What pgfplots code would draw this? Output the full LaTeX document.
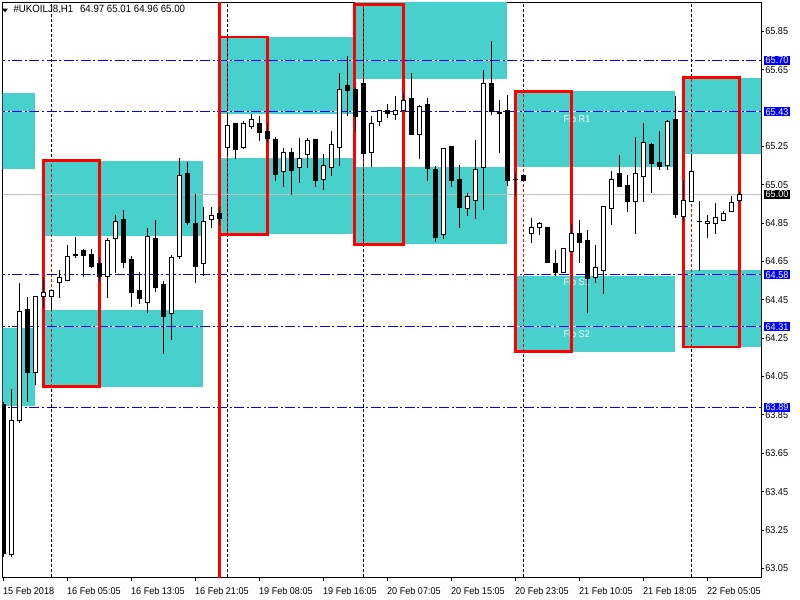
\documentclass[border=0pt]{standalone}
\usepackage{pgfplots}
\pgfplotsset{compat=1.18}
\usepackage{pgfplotstable}
\usepackage{fontspec}
\setmainfont{Liberation Sans}[FakeStretch=0.92]
\definecolor{zone}{RGB}{72,209,204}
\definecolor{bidgray}{RGB}{192,192,192}
\definecolor{pblue}{RGB}{0,0,255}
\newcommand\fs{\fontsize{7.4}{8.9}\selectfont}

% bar index, open, high, low, close (H1 bars)
\pgfplotstableread{
i O H L C
0 63.907 63.915 63.108 63.129
1 63.124 63.986 63.110 63.819
2 63.819 64.539 63.810 64.388
3 64.398 64.466 63.918 64.069
4 64.069 64.470 64.007 64.466
5 64.466 64.570 64.409 64.487
6 64.466 64.500 64.398 64.497
7 64.539 64.607 64.461 64.565
8 64.550 64.738 64.550 64.675
9 64.685 64.780 64.670 64.680
10 64.706 64.717 64.570 64.680
11 64.686 64.717 64.618 64.623
12 64.639 64.675 64.545 64.570
13 64.570 64.770 64.461 64.759
14 64.769 64.890 64.590 64.858
15 64.868 64.920 64.618 64.644
16 64.659 64.680 64.414 64.487
17 64.497 64.597 64.430 64.456
18 64.435 64.826 64.383 64.780
19 64.769 64.868 64.492 64.513
20 64.529 64.550 64.168 64.362
21 64.377 64.686 64.242 64.670
22 64.675 65.187 64.665 65.098
23 65.108 65.166 64.840 64.853
24 64.847 65.004 64.539 64.623
25 64.639 64.936 64.572 64.858
26 64.868 64.936 64.826 64.889
27 64.900 64.936 64.842 64.874
28 65.244 65.411 65.208 65.359
29 65.370 65.372 65.182 65.234
30 65.244 65.380 65.234 65.370
31 65.354 65.417 65.343 65.390
32 65.370 65.406 65.280 65.323
33 65.328 65.370 65.270 65.291
34 65.286 65.297 65.072 65.103
35 65.119 65.239 65.040 65.218
36 65.218 65.239 64.994 65.124
37 65.140 65.296 65.061 65.187
38 65.208 65.296 65.135 65.281
39 65.286 65.288 65.040 65.072
40 65.077 65.208 65.025 65.150
41 65.140 65.328 65.093 65.260
42 65.244 65.631 65.150 65.547
43 65.568 65.720 65.406 65.542
44 65.547 65.558 65.323 65.406
45 65.578 65.600 65.187 65.213
46 65.218 65.406 65.140 65.370
47 65.380 65.437 65.354 65.437
48 65.437 65.469 65.400 65.422
49 65.417 65.510 65.390 65.437
50 65.437 65.526 65.432 65.490
51 65.500 65.631 65.312 65.314
52 65.312 65.464 65.182 65.458
53 65.469 65.500 65.072 65.135
54 65.129 65.150 64.753 64.774
55 64.790 65.241 64.769 65.239
56 65.249 65.251 65.040 65.072
57 65.077 65.155 64.826 64.931
58 64.926 65.009 64.885 64.988
59 64.967 65.281 64.874 65.129
60 65.140 65.646 64.917 65.578
61 65.578 65.798 65.411 65.432
62 65.425 65.490 65.213 65.420
63 65.437 65.520 65.042 65.072
64 65.077 65.110 64.990 65.075
65 65.098 65.100 65.070 65.072
66 64.795 64.879 64.748 64.826
67 64.826 64.858 64.790 64.847
68 64.826 64.830 64.644 64.644
69 64.638 64.708 64.572 64.594
70 64.592 64.720 64.590 64.717
71 64.703 64.847 64.700 64.795
72 64.795 64.868 64.644 64.748
73 64.759 64.815 64.380 64.563
74 64.565 64.738 64.539 64.618
75 64.602 64.940 64.482 64.935
76 64.926 65.124 64.842 65.077
77 65.108 65.204 65.040 65.042
78 65.046 65.103 64.906 64.963
79 64.963 65.297 64.794 65.108
80 65.094 65.370 64.962 65.270
81 65.260 65.270 65.009 65.161
82 65.166 65.330 65.129 65.145
83 65.150 65.390 65.129 65.380
84 65.390 65.512 64.877 64.894
85 64.884 65.077 64.863 64.967
86 64.963 65.208 64.960 65.119
87 64.856 64.967 64.602 64.856
88 64.847 64.890 64.774 64.856
89 64.846 64.955 64.794 64.877
90 64.863 64.912 64.860 64.900
91 64.910 64.990 64.910 64.957
92 64.970 65.010 64.960 65.000
}\ohlc

\begin{document}
\begin{tikzpicture}
\useasboundingbox (0pt,0pt) rectangle (600pt,450pt);
\fill[white] (0pt,0pt) rectangle (600pt,450pt);
\begin{axis}[
  at={(1.875pt,16.5pt)}, anchor=south west,
  scale only axis, width=568.875pt, height=431.625pt,
  xmin=-0.1, xmax=94.71, ymin=63.0, ymax=66.0,
  axis line style={black, line width=0.75pt},
  tick align=outside, xtick pos=bottom, ytick pos=right, yticklabel pos=right,
  major tick length=2.25pt, tick style={black, line width=0.75pt},
  /pgf/number format/assume math mode=true,
  tick label style={font=\fs},
  xtick={0,8,16,24,32,40,48,56,64,72,80,88},
  xticklabels={15 Feb 2018,16 Feb 05:05,16 Feb 13:05,16 Feb 21:05,19 Feb 08:05,19 Feb 16:05,20 Feb 07:05,20 Feb 15:05,20 Feb 23:05,21 Feb 10:05,21 Feb 18:05,22 Feb 05:05},
  xticklabel style={anchor=north west, inner sep=0pt, xshift=-0.3pt, yshift=-4.2pt},
  ytick={63.05,63.25,63.45,63.65,63.85,64.05,64.25,64.45,64.65,64.85,65.05,65.25,65.65,65.85},
  scaled y ticks=false,
  yticklabel style={anchor=west, inner sep=0pt, xshift=0.8pt, /pgf/number format/.cd, fixed, fixed zerofill, precision=2},
  candle/.style={only marks, mark size=0pt, mark options={draw=none, fill=none}},
]
% zones
\addplot[fill=zone, draw=none] coordinates {(-1,65.130) (4,65.130) (4,65.526) (-1,65.526)};
\addplot[fill=zone, draw=none] coordinates {(-1,63.899) (4,63.899) (4,64.304) (-1,64.304)};
\addplot[fill=zone, draw=none] coordinates {(5,64.781) (25,64.781) (25,65.176) (5,65.176)};
\addplot[fill=zone, draw=none] coordinates {(5,63.998) (25,63.998) (25,64.398) (5,64.398)};
\addplot[fill=zone, draw=none] coordinates {(27,65.420) (43.9,65.420) (43.9,65.820) (27,65.820)};
\addplot[fill=zone, draw=none] coordinates {(27,64.792) (43.9,64.792) (43.9,65.187) (27,65.187)};
\addplot[fill=zone, draw=none] coordinates {(43.9,65.600) (63,65.600) (63,66.100) (43.9,66.100)};
\addplot[fill=zone, draw=none] coordinates {(43.9,64.739) (63,64.739) (63,65.140) (43.9,65.140)};
\addplot[fill=zone, draw=none] coordinates {(64,65.141) (84,65.141) (84,65.537) (64,65.537)};
\addplot[fill=zone, draw=none] coordinates {(64,64.180) (84,64.180) (84,64.572) (64,64.572)};
\addplot[fill=zone, draw=none] coordinates {(85,65.209) (100,65.209) (100,65.608) (85,65.608)};
\addplot[fill=zone, draw=none] coordinates {(85,64.205) (100,64.205) (100,64.607) (85,64.607)};
% day separators
\pgfplotsset{sep/.style={line width=0.75pt, dash pattern=on 2.25pt off 1.5pt}}
\addplot[sep, black] coordinates {(6,62.9) (6,66.1)};
\addplot[sep, red] coordinates {(6,63.998) (6,65.176)};
\addplot[sep, black] coordinates {(28,62.9) (28,66.1)};
\addplot[sep, red] coordinates {(28,64.792) (28,65.820)};
\addplot[sep, black] coordinates {(45,62.9) (45,66.1)};
\addplot[sep, red] coordinates {(45,64.739) (45,65.990)};
\addplot[sep, black] coordinates {(65,62.9) (65,66.1)};
\addplot[sep, red] coordinates {(65,64.180) (65,65.537)};
\addplot[sep, black] coordinates {(86,62.9) (86,66.1)};
\addplot[sep, red] coordinates {(86,64.205) (86,65.608)};
% pivot levels
\pgfplotsset{piv/.style={line width=0.75pt, pblue, dash pattern=on 7.5pt off 1.9pt on 1.5pt off 1.9pt}}
\addplot[white, line width=0.75pt] coordinates {(-1,65.70) (96,65.70)};
\addplot[piv] coordinates {(-1,65.70) (96,65.70)};
\addplot[white, line width=0.75pt] coordinates {(-1,65.43) (96,65.43)};
\addplot[piv] coordinates {(-1,65.43) (96,65.43)};
\addplot[white, line width=0.75pt] coordinates {(-1,64.58) (96,64.58)};
\addplot[piv] coordinates {(-1,64.58) (96,64.58)};
\addplot[white, line width=0.75pt] coordinates {(-1,64.31) (96,64.31)};
\addplot[piv] coordinates {(-1,64.31) (96,64.31)};
\addplot[white, line width=0.75pt] coordinates {(-1,63.89) (96,63.89)};
\addplot[piv] coordinates {(-1,63.89) (96,63.89)};
% bid line
\addplot[bidgray, line width=0.75pt] coordinates {(-1,65.00) (96,65.00)};
% pivot labels
\node[anchor=base west, inner sep=0pt, font=\fs, text=white] at (axis cs:70,65.376) {Fib R1};
\node[anchor=base west, inner sep=0pt, font=\fs, text=white] at (axis cs:70,64.526) {Fib S1};
\node[anchor=base west, inner sep=0pt, font=\fs, text=white] at (axis cs:70,64.256) {Fib S2};
% red boxes
\pgfplotsset{rbox/.style={red, line width=1.9pt, line join=miter}}
\addplot[rbox] coordinates {(5,63.998) (12,63.998) (12,65.176) (5,65.176) (5,63.998) (12,63.998)};
\addplot[rbox] coordinates {(27,64.792) (33,64.792) (33,65.820) (27,65.820) (27,64.792) (33,64.792)};
\addplot[rbox] coordinates {(43.9,64.739) (50,64.739) (50,65.990) (43.9,65.990) (43.9,64.739) (50,64.739)};
\addplot[rbox] coordinates {(64,64.180) (71,64.180) (71,65.537) (64,65.537) (64,64.180) (71,64.180)};
\addplot[rbox] coordinates {(85,64.205) (92,64.205) (92,65.608) (85,65.608) (85,64.205) (92,64.205)};
\addplot[red, line width=1.9pt] coordinates {(27,62.9) (27,66.1)};
% candles: wicks
\addplot[candle, error bars/.cd, y dir=plus, y explicit, error mark=none,
  error bar style={black, solid, line width=0.75pt}]
  table[x=i, y=L, y error expr=\thisrow{H}-\thisrow{L}] {\ohlc};
% bodies (outline)
\addplot[candle, error bars/.cd, y dir=plus, y explicit, error mark=none,
  error bar style={black, solid, line width=3.75pt, line cap=butt}]
  table[x=i, y expr={min(\thisrow{O},\thisrow{C})-0.0026}, y error expr={abs(\thisrow{C}-\thisrow{O})+0.0052}] {\ohlc};
% bodies (hollow bull candles)
\addplot[candle, error bars/.cd, y dir=plus, y explicit, error mark=none,
  error bar style={white, solid, line width=2.25pt, line cap=butt}]
  table[x=i, y expr={\thisrow{O}+0.0026}, y error expr={(\thisrow{C}>\thisrow{O})*max(\thisrow{C}-\thisrow{O}-0.0052,0)}] {\ohlc};
% anchors for price tags
\coordinate (t1) at (axis cs:94.71,65.70);
\coordinate (t2) at (axis cs:94.71,65.43);
\coordinate (t3) at (axis cs:94.71,65.00);
\coordinate (t4) at (axis cs:94.71,64.58);
\coordinate (t5) at (axis cs:94.71,64.31);
\coordinate (t6) at (axis cs:94.71,63.89);
\end{axis}
% title
\fill[black] (1.5pt,443.6pt) -- (6.0pt,443.6pt) -- (3.75pt,440.8pt) -- cycle;
\node[anchor=base west, inner sep=0pt, font=\fontsize{7.9}{9}\selectfont] at (10pt,440.6pt) {\#UKOILJ8,H1\hspace{5pt}64.97 65.01 64.96 65.00};
% price tags
\tikzset{tag/.style={anchor=west, font=\fs, text=white, inner xsep=1.1pt, inner ysep=0.7pt, text height=5.3pt, text depth=0pt}}
\node[tag, fill=pblue] at ([xshift=2.2pt]t1) {65.70};
\node[tag, fill=pblue] at ([xshift=2.2pt]t2) {65.43};
\node[tag, fill=black] at ([xshift=2.2pt]t3) {65.00};
\node[tag, fill=pblue] at ([xshift=2.2pt]t4) {64.58};
\node[tag, fill=pblue] at ([xshift=2.2pt]t5) {64.31};
\node[tag, fill=pblue] at ([xshift=2.2pt]t6) {63.89};
\end{tikzpicture}
\end{document}
